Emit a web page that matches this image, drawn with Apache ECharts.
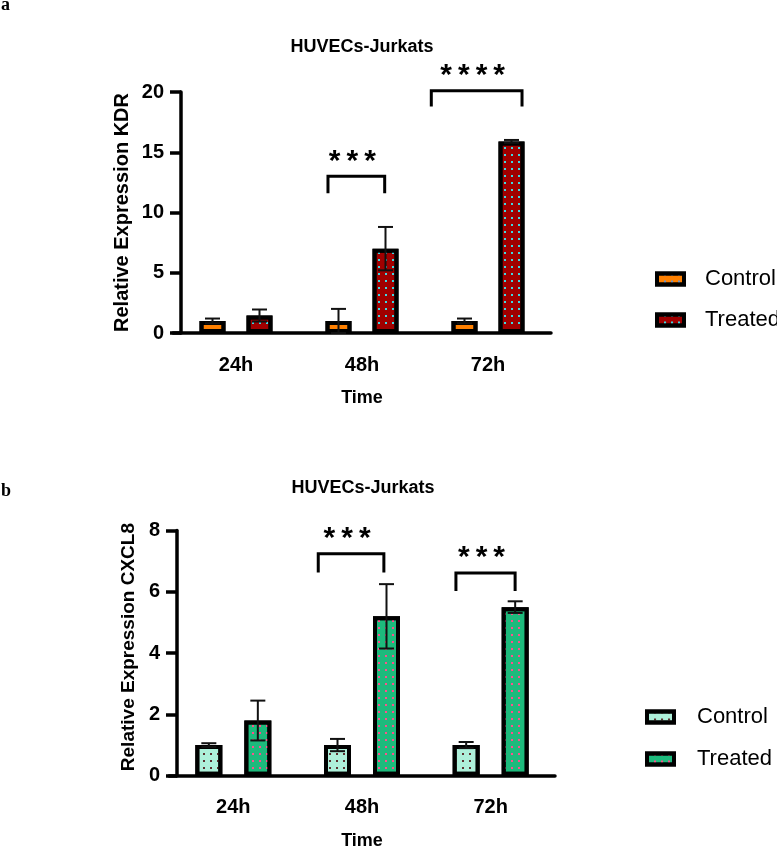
<!DOCTYPE html>
<html>
<head>
<meta charset="utf-8">
<script src="https://cdn.jsdelivr.net/npm/echarts@6/dist/echarts.min.js"></script>
<style>
  html, body { margin: 0; padding: 0; background: #fff; }
  .chart { width: 777px; height: 424px; }
</style>
</head>
<body>
<div id="chartA" class="chart"></div>
<div id="chartB" class="chart"></div>
<script>
// shared categories
const times = ["24h", "48h", "72h"];
const groupNames = ["Control", "Treated"];

// panel a: KDR
const kdrYTicks = [0, 5, 10, 15, 20];
const kdrControl = [1.0, 1.0, 1.0];
const kdrControlErr = [0.2, 1.0, 0.2];
const kdrTreated = [1.45, 7.0, 15.9];
const kdrTreatedErr = [0.5, 1.8, 0.12];
// brackets: x in category units, y in data units
const kdrBracketFrom = [0.73, 1.55];
const kdrBracketTo = [1.18, 2.27];
const kdrBracketTop = [13.0, 20.1];
const kdrBracketLeg = [11.6, 18.8];
const kdrStars = ["***", "****"];

// panel b: CXCL8
const cxclYTicks = [0, 2, 4, 6, 8];
const cxclControl = [1.0, 1.0, 1.0];
const cxclControlErr = [0.06, 0.2, 0.1];
const cxclTreated = [1.8, 5.2, 5.5];
const cxclTreatedErr = [0.65, 1.05, 0.19];
const cxclBracketFrom = [0.66, 1.73];
const cxclBracketTo = [1.17, 2.19];
const cxclBracketTop = [7.24, 6.61];
const cxclBracketLeg = [6.63, 6.03];
const cxclStars = ["***", "***"];

const FONT = "'Liberation Sans', Arial, sans-serif";

function makeOption(c) {
  const shift = (c.barW + c.gapPx) / 2;
  const errData = [];
  times.forEach((t, i) => {
    errData.push([i, c.control[i], c.controlErr[i], -1]);
    errData.push([i, c.treated[i], c.treatedErr[i], 1]);
  });
  const brData = c.brFrom.map((f, i) => [f, c.brTo[i], c.brTop[i], c.brLeg[i], i]);
  const ticks = c.yTicks;

  const barSeries = (name, vals, fill, dot) => ({
    name,
    type: "bar",
    data: vals,
    barWidth: c.barW,
    barGap: (c.gapPx / c.barW) * 100 + "%",
    itemStyle: {
      color: fill,
      borderColor: "#000",
      borderWidth: 4,
      decal: {
        symbol: "rect",
        symbolSize: 1,
        color: dot,
        dashArrayX: [2, 4.5],
        dashArrayY: [2, 4.3],
        rotation: 0,
      },
    },
    emphasis: { disabled: true },
    z: 2,
  });

  return {
    animation: false,
    textStyle: { fontFamily: FONT },
    title: [
      {
        text: c.letter,
        left: 1,
        top: c.letterTop,
        padding: 0,
        textStyle: { fontFamily: "'Liberation Serif', 'Times New Roman', serif", fontWeight: "bold", fontSize: 18, color: "#000" },
      },
      {
        text: "HUVECs-Jurkats",
        left: c.titleX,
        top: c.titleTop,
        padding: 0,
        textAlign: "center",
        textStyle: { fontFamily: FONT, fontWeight: "bold", fontSize: 18, color: "#000" },
      },
    ],
    legend: {
      orient: "vertical",
      left: c.legendLeft,
      top: c.legendTop,
      padding: 0,
      itemGap: c.legendGap,
      itemWidth: 27,
      itemHeight: 11,
      icon: "rect",
      selectedMode: false,
      data: groupNames,
      itemStyle: { borderColor: "#000", borderWidth: 4 },
      textStyle: { fontFamily: FONT, fontSize: 22, color: "#000", padding: [0, 0, 0, c.legendTextPad] },
    },
    grid: {
      left: c.gridLeft,
      right: c.gridRight,
      top: c.gridTop,
      bottom: c.gridBottom,
      containLabel: false,
      outerBoundsMode: "none",
    },
    xAxis: [
      {
        type: "category",
        data: times,
        boundaryGap: true,
        name: "Time",
        nameLocation: "middle",
        nameGap: 56,
        nameTextStyle: { fontFamily: FONT, fontWeight: "bold", fontSize: 18, color: "#000" },
        axisLine: { onZero: false, lineStyle: { color: "#000", width: 3.5 } },
        axisTick: { alignWithLabel: true, length: 12, lineStyle: { color: "#000", width: 3.5 } },
        axisLabel: { fontFamily: FONT, fontWeight: "bold", fontSize: 20, color: "#000", margin: 22 },
        splitLine: { show: false },
      },
      { type: "value", min: -0.5, max: 2.5, show: false },
    ],
    yAxis: {
      type: "value",
      min: ticks[0],
      max: ticks[ticks.length - 1],
      interval: ticks[1] - ticks[0],
      offset: c.yOffset,
      name: c.yName,
      nameLocation: "middle",
      nameGap: c.yNameGap,
      nameTextStyle: {
        fontFamily: FONT,
        fontWeight: "bold",
        fontSize: c.yNameSize,
        color: "#000",
        padding: c.yNamePad,
      },
      axisLine: { show: true, onZero: false, lineStyle: { color: "#000", width: 3.5 } },
      axisTick: { show: true, length: 11, lineStyle: { color: "#000", width: 3.5 } },
      axisLabel: { fontFamily: FONT, fontWeight: "bold", fontSize: 20, color: "#000", margin: 17 },
      splitLine: { show: false },
    },
    series: [
      barSeries(groupNames[0], c.control, c.ctrlFill, c.ctrlDot),
      barSeries(groupNames[1], c.treated, c.trtFill, c.trtDot),
      {
        type: "custom",
        name: "err",
        xAxisIndex: 0,
        data: errData,
        z: 5,
        renderItem(params, api) {
          const i = api.value(0);
          const m = api.value(1);
          const e = api.value(2);
          const x = api.coord([i, m])[0] + api.value(3) * shift;
          const hi = api.coord([i, m + e])[1];
          const lo = api.coord([i, Math.max(0, m - e)])[1];
          const cap = 7.5;
          const st = { stroke: "#111", lineWidth: 2 };
          return {
            type: "group",
            children: [
              { type: "line", shape: { x1: x, y1: lo, x2: x, y2: hi }, style: st },
              { type: "line", shape: { x1: x - cap, y1: hi, x2: x + cap, y2: hi }, style: st },
              { type: "line", shape: { x1: x - cap, y1: lo, x2: x + cap, y2: lo }, style: st },
            ],
          };
        },
      },
      {
        type: "custom",
        name: "sig",
        xAxisIndex: 1,
        data: brData,
        z: 5,
        renderItem(params, api) {
          const p1 = api.coord([api.value(0), api.value(3)]);
          const p2 = api.coord([api.value(0), api.value(2)]);
          const p3 = api.coord([api.value(1), api.value(2)]);
          const p4 = api.coord([api.value(1), api.value(3)]);
          const label = c.stars[api.value(4)].split("").join("\u2009");
          return {
            type: "group",
            children: [
              {
                type: "polyline",
                shape: { points: [p1, p2, p3, p4] },
                style: { stroke: "#000", lineWidth: 3, fill: null },
              },
              {
                type: "text",
                x: (p2[0] + p3[0]) / 2 - 4,
                y: p2[1] - 15,
                style: {
                  text: label,
                  fontFamily: FONT,
                  fontSize: 30,
                  fontWeight: "bold",
                  fill: "#000",
                  align: "center",
                  verticalAlign: "middle",
                },
              },
            ],
          };
        },
      },
    ],
  };
}

const chartA = echarts.init(document.getElementById("chartA"));
chartA.setOption(
  makeOption({
    letter: "a",
    letterTop: -4,
    titleX: 362,
    titleTop: 38,
    yName: "Relative Expression KDR",
    yNameGap: 49,
    yNameSize: 20,
    yNamePad: 0,
    yTicks: kdrYTicks,
    control: kdrControl,
    controlErr: kdrControlErr,
    treated: kdrTreated,
    treatedErr: kdrTreatedErr,
    brFrom: kdrBracketFrom,
    brTo: kdrBracketTo,
    brTop: kdrBracketTop,
    brLeg: kdrBracketLeg,
    stars: kdrStars,
    barW: 26,
    gapPx: 21,
    gridLeft: 173,
    gridRight: 226,
    gridTop: 92,
    gridBottom: 91,
    yOffset: -8,
    ctrlFill: "#FF8000",
    ctrlDot: "#6F95C8",
    trtFill: "#A00000",
    trtDot: "#3FD8E2",
    legendLeft: 655,
    legendTop: 268,
    legendGap: 19,
    legendTextPad: 16,
  })
);

const chartB = echarts.init(document.getElementById("chartB"));
chartB.setOption(
  makeOption({
    letter: "b",
    letterTop: 58,
    titleX: 363,
    titleTop: 55,
    yName: "Relative Expression CXCL8",
    yNameGap: 39,
    yNameSize: 19,
    yNamePad: [0, 0, 0, 12],
    yTicks: cxclYTicks,
    control: cxclControl,
    controlErr: cxclControlErr,
    treated: cxclTreated,
    treatedErr: cxclTreatedErr,
    brFrom: cxclBracketFrom,
    brTo: cxclBracketTo,
    brTop: cxclBracketTop,
    brLeg: cxclBracketLeg,
    stars: cxclStars,
    barW: 27,
    gapPx: 22,
    gridLeft: 169,
    gridRight: 222,
    gridTop: 106.5,
    gridBottom: 72.3,
    yOffset: -8,
    ctrlFill: "#AEF0DA",
    ctrlDot: "#5A2E2E",
    trtFill: "#1DBA7C",
    trtDot: "#FF4F8D",
    legendLeft: 645,
    legendTop: 282,
    legendGap: 20,
    legendTextPad: 18,
  })
);
</script>
</body>
</html>
